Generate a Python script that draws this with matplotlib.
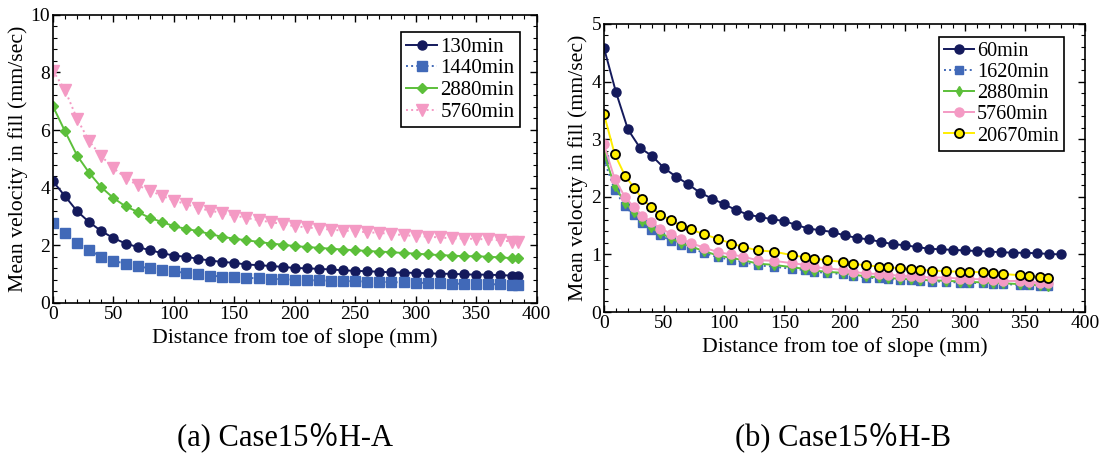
import matplotlib

matplotlib.use("Agg")

import matplotlib.pyplot as plt
from matplotlib.ticker import MultipleLocator

plt.rcParams["font.family"] = ["Liberation Serif", "Noto Sans CJK JP"]
plt.rcParams["mathtext.fontset"] = "stix"

# (a) Case15%H-A : distance (mm) and mean velocity (mm/sec)
dist_a = list(range(0, 390, 10)) + [385]
v_a_130 = [4.22, 3.70, 3.18, 2.80, 2.49, 2.25, 2.06, 1.94, 1.83, 1.73, 1.64, 1.60, 1.53, 1.47,
           1.42, 1.39, 1.33, 1.31, 1.28, 1.25, 1.21, 1.20, 1.18, 1.16, 1.13, 1.11, 1.10, 1.08,
           1.06, 1.05, 1.04, 1.03, 1.01, 1.01, 0.99, 0.98, 0.98, 0.96, 0.95, 0.94]
v_a_1440 = [2.77, 2.43, 2.08, 1.83, 1.60, 1.47, 1.35, 1.27, 1.20, 1.14, 1.09, 1.04, 1.01, 0.95,
            0.91, 0.89, 0.87, 0.85, 0.84, 0.82, 0.80, 0.79, 0.78, 0.77, 0.76, 0.75, 0.74, 0.73,
            0.72, 0.71, 0.70, 0.69, 0.68, 0.67, 0.66, 0.66, 0.65, 0.64, 0.63, 0.62]
v_a_2880 = [6.82, 5.95, 5.11, 4.51, 4.01, 3.64, 3.35, 3.16, 2.95, 2.81, 2.66, 2.57, 2.49, 2.39,
            2.29, 2.23, 2.17, 2.12, 2.06, 2.02, 1.97, 1.94, 1.91, 1.88, 1.85, 1.83, 1.80, 1.78,
            1.76, 1.73, 1.71, 1.68, 1.66, 1.64, 1.62, 1.62, 1.60, 1.58, 1.55, 1.55]
v_a_5760 = [8.06, 7.38, 6.38, 5.61, 5.09, 4.68, 4.34, 4.08, 3.90, 3.72, 3.55, 3.43, 3.29, 3.20,
            3.12, 3.03, 2.95, 2.87, 2.80, 2.74, 2.66, 2.62, 2.58, 2.54, 2.51, 2.49, 2.45, 2.43,
            2.39, 2.35, 2.32, 2.30, 2.27, 2.24, 2.23, 2.22, 2.20, 2.17, 2.13, 2.13]

# (b) Case15%H-B
dist_b_60 = list(range(0, 390, 10))
v_b_60 = [4.59, 3.82, 3.17, 2.85, 2.71, 2.50, 2.35, 2.22, 2.07, 1.97, 1.87, 1.77, 1.69, 1.65,
          1.61, 1.58, 1.51, 1.45, 1.42, 1.39, 1.33, 1.29, 1.26, 1.22, 1.18, 1.16, 1.13, 1.10,
          1.09, 1.08, 1.07, 1.06, 1.05, 1.04, 1.03, 1.03, 1.02, 1.01, 1.00]
dist_b = [0, 9, 17.5, 25, 32, 39, 47, 56, 64, 72, 83, 95, 106, 116, 128, 141, 156, 167, 175,
          185, 199, 207, 218, 229, 236, 246, 255, 263, 273, 284, 296, 303, 315, 323, 332, 346,
          353, 362, 369]
v_b_1620 = [2.65, 2.12, 1.84, 1.68, 1.54, 1.43, 1.33, 1.24, 1.17, 1.11, 1.03, 0.95, 0.91, 0.87,
            0.81, 0.79, 0.75, 0.73, 0.70, 0.68, 0.66, 0.63, 0.60, 0.585, 0.575, 0.555, 0.555,
            0.545, 0.53, 0.53, 0.51, 0.51, 0.50, 0.49, 0.49, 0.47, 0.47, 0.45, 0.45]
v_b_2880 = [2.76, 2.18, 1.90, 1.73, 1.58, 1.47, 1.37, 1.28, 1.20, 1.14, 1.06, 0.98, 0.94, 0.90,
            0.84, 0.82, 0.78, 0.75, 0.72, 0.70, 0.68, 0.65, 0.62, 0.605, 0.595, 0.575, 0.57,
            0.56, 0.55, 0.545, 0.53, 0.525, 0.515, 0.505, 0.50, 0.485, 0.48, 0.465, 0.46]
v_b_5760 = [2.91, 2.31, 2.00, 1.82, 1.67, 1.57, 1.45, 1.36, 1.27, 1.20, 1.12, 1.04, 1.00, 0.96,
            0.90, 0.89, 0.85, 0.82, 0.78, 0.76, 0.73, 0.70, 0.67, 0.66, 0.65, 0.63, 0.62, 0.61,
            0.60, 0.60, 0.58, 0.575, 0.57, 0.555, 0.54, 0.54, 0.53, 0.51, 0.51]
v_b_20670 = [3.44, 2.74, 2.37, 2.16, 1.96, 1.83, 1.69, 1.59, 1.50, 1.44, 1.35, 1.27, 1.19, 1.13,
             1.07, 1.05, 0.99, 0.95, 0.93, 0.90, 0.87, 0.84, 0.81, 0.79, 0.78, 0.76, 0.75, 0.73,
             0.72, 0.71, 0.70, 0.70, 0.69, 0.67, 0.66, 0.64, 0.63, 0.61, 0.60]

NAVY = "#141a5c"
BLUE = "#4169b8"
GREEN = "#5cbf3a"
PINK = "#f49ac4"
YELLOW = "#ffee00"


def style_axes(ax, xmax, ymax, ymaj, ymin):
    ax.set_xlim(0, xmax)
    ax.set_ylim(0, ymax)
    ax.xaxis.set_major_locator(MultipleLocator(50))
    ax.xaxis.set_minor_locator(MultipleLocator(10))
    ax.yaxis.set_major_locator(MultipleLocator(ymaj))
    ax.yaxis.set_minor_locator(MultipleLocator(ymin))
    ax.tick_params(which="both", direction="in", top=True, right=True, labelsize=14, pad=2)
    ax.tick_params(which="major", length=5, width=1)
    ax.tick_params(which="minor", length=3, width=0.8)
    for s in ax.spines.values():
        s.set_linewidth(1.2)
    ax.set_xlabel("Distance from toe of slope (mm)", fontsize=15.7, labelpad=4)
    ax.set_ylabel("Mean velocity in fill (mm/sec)", fontsize=15.7, labelpad=2)


def add_legend(ax, anchor, fs):
    leg = ax.legend(loc="upper right", bbox_to_anchor=anchor, fontsize=fs,
                    fancybox=False, edgecolor="black", framealpha=1, handlelength=1.5,
                    borderpad=0.25, labelspacing=0.1, handletextpad=0.15, borderaxespad=0)
    leg.get_frame().set_linewidth(1.2)
    return leg


fig = plt.figure(figsize=(11.04, 4.61), dpi=100)
ax1 = fig.add_axes([0.048, 0.343, 0.438, 0.625])
ax2 = fig.add_axes([0.547, 0.323, 0.436, 0.625])

ax1.plot(dist_a, v_a_130, "-", color=NAVY, marker="o", ms=6.5, lw=1.4, label="130min")
ax1.plot(dist_a, v_a_1440, ":", color=BLUE, marker="s", ms=6.5, lw=1.4, label="1440min")
ax1.plot(dist_a, v_a_2880, "-", color=GREEN, marker="D", ms=5.5, lw=1.4, label="2880min")
ax1.plot(dist_a, v_a_5760, ":", color=PINK, marker="v", ms=8, lw=1.4, label="5760min")
style_axes(ax1, 400, 10, 2, 0.4)
add_legend(ax1, (0.965, 0.94), 15)

ax2.plot(dist_b_60, v_b_60, "-", color=NAVY, marker="o", ms=6.5, lw=1.4, label="60min")
ax2.plot(dist_b, v_b_1620, ":", color=BLUE, marker="s", ms=6, lw=1.4, label="1620min")
ax2.plot(dist_b, v_b_2880, "-", color=GREEN, marker="d", ms=5.5, lw=1.4, label="2880min")
ax2.plot(dist_b, v_b_5760, "-", color=PINK, marker="o", ms=6.5, lw=1.4, label="5760min")
ax2.plot(dist_b, v_b_20670, "-", color=YELLOW, marker="o", ms=6.5, lw=1.4, mfc=YELLOW,
         mec="black", mew=1.3, label="20670min")
style_axes(ax2, 400, 5, 1, 0.2)
add_legend(ax2, (0.955, 0.955), 14.5)

fig.text(0.258, 0.052, "(a) Case15％H-A", ha="center", va="center", fontsize=22)
fig.text(0.764, 0.052, "(b) Case15％H-B", ha="center", va="center", fontsize=22)

fig.savefig("out.png", dpi=100)
